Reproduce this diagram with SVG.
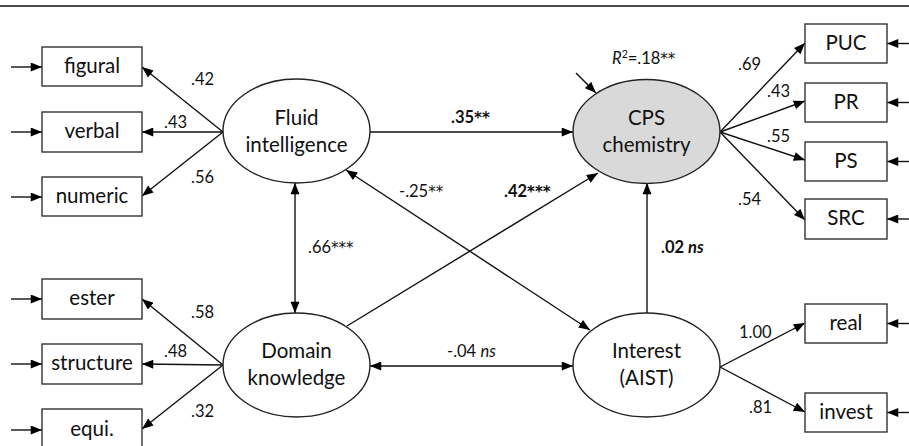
<svg xmlns="http://www.w3.org/2000/svg" width="909" height="446" viewBox="0 0 909 446">
<defs>
<marker id="ah" viewBox="0 0 10 8" refX="10" refY="4" markerWidth="12" markerHeight="9" markerUnits="userSpaceOnUse" orient="auto-start-reverse">
<path d="M0,0 L10,4 L0,8 z" fill="#000"/>
</marker>
<style>
.box{fill:#fff;stroke:#333;stroke-width:1.4}
.ell{fill:#fff;stroke:#222;stroke-width:1.4}
.gray{fill:#d9d9d9}
.ln{fill:none;stroke:#111;stroke-width:1.4}
.a{marker-end:url(#ah)}
.b{marker-start:url(#ah);marker-end:url(#ah)}
.t{font-family:Lato,"Liberation Sans",sans-serif;font-size:20.5px;fill:#111;text-anchor:middle}
.c{font-family:Lato,"Liberation Sans",sans-serif;font-size:16.5px;fill:#111}
.bold{font-weight:bold}
.it{font-style:italic}
.s{font-family:"DejaVu Sans",sans-serif;font-size:15px}
</style>
</defs>
<rect width="909" height="446" fill="#fff"/>
<line x1="0" y1="6" x2="909" y2="6" stroke="#111" stroke-width="1.5"/>

<g id="connectors">
<path class="ln a" d="M11,67 H42"/>
<path class="ln a" d="M11,132 H42"/>
<path class="ln a" d="M11,197 H42"/>
<path class="ln a" d="M11,299 H42"/>
<path class="ln a" d="M11,364 H42"/>
<path class="ln a" d="M11,430 H42"/>
<path class="ln a" d="M909,43.5 H887"/>
<path class="ln a" d="M909,102.5 H887"/>
<path class="ln a" d="M909,161.5 H887"/>
<path class="ln a" d="M909,219 H887"/>
<path class="ln a" d="M909,323.5 H887"/>
<path class="ln a" d="M909,412.5 H887"/>
<path class="ln a" d="M223,132 L142,67"/>
<path class="ln a" d="M223,132 L142,132"/>
<path class="ln a" d="M223,132 L142,196"/>
<path class="ln a" d="M223,365 L142,299"/>
<path class="ln a" d="M223,365 L142,364"/>
<path class="ln a" d="M223,365 L142,429"/>
<path class="ln a" d="M720,132 L805,43"/>
<path class="ln a" d="M720,132 L805,101"/>
<path class="ln a" d="M720,132 L805,160"/>
<path class="ln a" d="M720,132 L805,220"/>
<path class="ln a" d="M720,367 L805,323"/>
<path class="ln a" d="M720,367 L805,412"/>
<path class="ln a" d="M370,132 L573,132"/>
<path class="ln b" d="M295,183 L295,313"/>
<path class="ln b" d="M370,366 L573,366"/>
<path class="ln a" d="M347,326 L598,173"/>
<path class="ln b" d="M346,170 L590,330"/>
<path class="ln a" d="M647,313 L647,183"/>
<path class="ln a" d="M576,73 L596,93"/>
</g>

<g id="n-figural"><rect class="box" x="42" y="47" width="100" height="39"/><text class="t" x="92" y="73">figural</text></g>
<g id="n-verbal"><rect class="box" x="42" y="112" width="100" height="40"/><text class="t" x="92" y="138">verbal</text></g>
<g id="n-numeric"><rect class="box" x="42" y="177" width="100" height="39"/><text class="t" x="92" y="203">numeric</text></g>
<g id="n-ester"><rect class="box" x="42" y="279" width="100" height="40"/><text class="t" x="92" y="305">ester</text></g>
<g id="n-structure"><rect class="box" x="42" y="344" width="100" height="40"/><text class="t" x="92" y="370">structure</text></g>
<g id="n-equi"><rect class="box" x="42" y="409" width="100" height="42"/><text class="t" x="92" y="436">equi.</text></g>

<g id="n-puc"><rect class="box" x="805" y="24" width="82" height="39"/><text class="t" x="846" y="50">PUC</text></g>
<g id="n-pr"><rect class="box" x="805" y="83" width="82" height="39"/><text class="t" x="846" y="109">PR</text></g>
<g id="n-ps"><rect class="box" x="805" y="142" width="82" height="39"/><text class="t" x="846" y="168">PS</text></g>
<g id="n-src"><rect class="box" x="805" y="199" width="82" height="40"/><text class="t" x="846" y="225">SRC</text></g>
<g id="n-real"><rect class="box" x="805" y="304" width="82" height="39"/><text class="t" x="846" y="330">real</text></g>
<g id="n-invest"><rect class="box" x="805" y="393" width="82" height="39"/><text class="t" x="846" y="419">invest</text></g>

<g id="n-fluid"><ellipse class="ell" cx="296.5" cy="131" rx="73.5" ry="52"/><text class="t" x="296.5" y="125">Fluid</text><text class="t" x="296.5" y="152">intelligence</text></g>
<g id="n-domain"><ellipse class="ell" cx="296.5" cy="365" rx="73.5" ry="52"/><text class="t" x="296.5" y="358">Domain</text><text class="t" x="296.5" y="385">knowledge</text></g>
<g id="n-cps"><ellipse class="ell gray" cx="646.5" cy="131.5" rx="73.5" ry="52"/><text class="t" x="646.5" y="125">CPS</text><text class="t" x="646.5" y="152">chemistry</text></g>
<g id="n-interest"><ellipse class="ell" cx="646.5" cy="365" rx="73.5" ry="52"/><text class="t" x="646.5" y="358">Interest</text><text class="t" x="646.5" y="385">(AIST)</text></g>

<g id="labels">
<text class="c" x="191" y="85">.42</text>
<text class="c" x="164" y="128">.43</text>
<text class="c" x="191" y="183">.56</text>
<text class="c" x="191" y="318">.58</text>
<text class="c" x="164" y="357">.48</text>
<text class="c" x="191" y="417">.32</text>
<text class="c" x="738" y="70">.69</text>
<text class="c" x="767" y="97">.43</text>
<text class="c" x="767" y="142">.55</text>
<text class="c" x="738" y="205">.54</text>
<text class="c" x="739" y="338">1.00</text>
<text class="c" x="749" y="413">.81</text>
<text class="c" x="612" y="64"><tspan class="it">R</tspan><tspan font-size="10.5" dy="-6">2</tspan><tspan dy="6">=.18</tspan><tspan class="s">**</tspan></text>
<text class="c bold" x="451" y="123">.35<tspan class="s">**</tspan></text>
<text class="c bold" x="504" y="197">.42<tspan class="s">***</tspan></text>
<text class="c" x="399" y="197">-.25<tspan class="s">**</tspan></text>
<text class="c" x="308" y="253">.66<tspan class="s">***</tspan></text>
<text class="c bold" x="661" y="253">.02 <tspan class="it">ns</tspan></text>
<text class="c" x="447" y="357">-.04 <tspan class="it">ns</tspan></text>
</g>
</svg>
